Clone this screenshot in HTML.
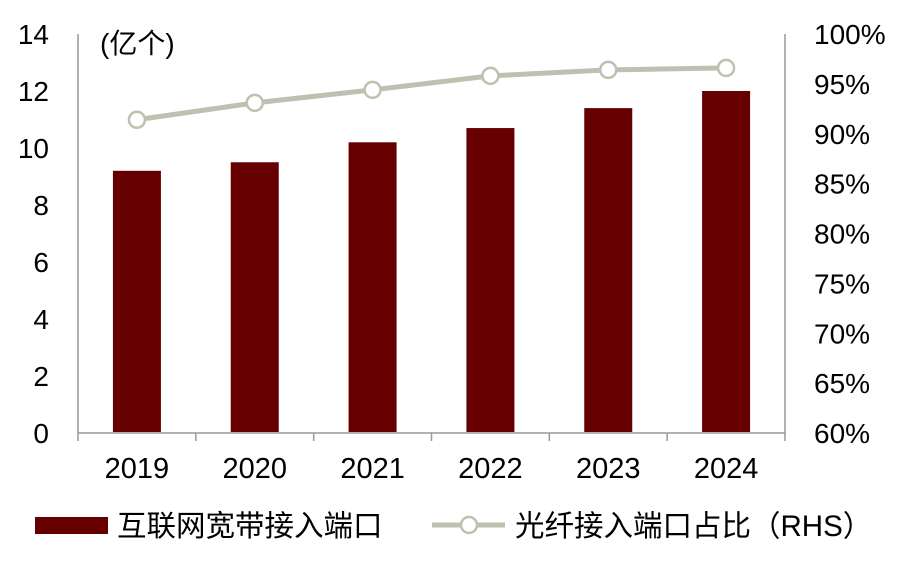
<!DOCTYPE html>
<html><head><meta charset="utf-8"><style>
body{margin:0;background:#fff}
svg text{font-family:"Liberation Sans","Noto Sans CJK SC",sans-serif;fill:#000}
</style></head><body>
<svg id="c" width="913" height="561" xmlns="http://www.w3.org/2000/svg"></svg>
<script>
const categories=["2019","2020","2021","2022","2023","2024"];
const barValues=[9.2,9.5,10.2,10.7,11.4,12.0];
const lineValues=[91.4,93.1,94.4,95.8,96.4,96.6];
const leftTicks=[0,2,4,6,8,10,12,14];
const rightTicks=[60,65,70,75,80,85,90,95,100];
const NS="http://www.w3.org/2000/svg";
const svg=document.getElementById('c');
const X0=78,X1=785,Y0=433,Y1=34;
const band=(X1-X0)/categories.length;
const xc=i=>X0+band*(i+0.5);
const yl=v=>Y0-(v/14)*(Y0-Y1);
const yr=v=>Y0-((v-60)/40)*(Y0-Y1);
function el(t,a,p){const e=document.createElementNS(NS,t);for(const k in a)e.setAttribute(k,a[k]);(p||svg).appendChild(e);return e;}
const ax=el('g',{});


el('line',{x1:X0,y1:Y1,x2:X0,y2:Y0,stroke:'#999','stroke-width':1.5},ax);
el('line',{x1:X1,y1:Y1,x2:X1,y2:Y0,stroke:'#999','stroke-width':1.5},ax);
el('line',{x1:X0,y1:Y0,x2:X1,y2:Y0,stroke:'#999','stroke-width':1.5},ax);
for(let i=0;i<=categories.length;i++){el('line',{x1:X0+band*i,y1:Y0,x2:X0+band*i,y2:Y0+8,stroke:'#999','stroke-width':1.5},ax);}
leftTicks.forEach(v=>{const t=el('text',{x:49,y:yl(v)+10,'font-size':28,'text-anchor':'end'});t.textContent=v;

});
rightTicks.forEach(v=>{const t=el('text',{x:814,y:yr(v)+10,'font-size':28});t.textContent=v+'%';

});
categories.forEach((c,i)=>{const t=el('text',{x:xc(i),y:478,'font-size':29,'text-anchor':'middle'});t.textContent=c;

});
const u=el('text',{x:100,y:53,'font-size':28});u.textContent='(亿个)';


barValues.forEach((v,i)=>{const r=el('rect',{x:xc(i)-24,y:yl(v),width:48,height:Y0-1-yl(v),fill:'#660000'});

});
const pts=lineValues.map((v,i)=>xc(i)+','+yr(v)).join(' ');
const pl=el('polyline',{points:pts,fill:'none',stroke:'#c0bfb0','stroke-width':5});


lineValues.forEach((v,i)=>{const c=el('circle',{cx:xc(i),cy:yr(v),r:8,fill:'#fff',stroke:'#c0bfb0','stroke-width':2.5});

});
const lg=el('g',{});


el('rect',{x:35,y:517,width:73,height:17,fill:'#660000'},lg);
const t1=el('text',{x:117,y:536,'font-size':29.5},lg);t1.textContent='互联网宽带接入端口';
el('line',{x1:432,y1:525,x2:505,y2:525,stroke:'#c0bfb0','stroke-width':5},lg);
el('circle',{cx:469,cy:525,r:8,fill:'#fff',stroke:'#c0bfb0','stroke-width':2.5},lg);
const t2=el('text',{x:515,y:536,'font-size':29.5},lg);t2.textContent='光纤接入端口占比（RHS）';
</script>
</body></html>
